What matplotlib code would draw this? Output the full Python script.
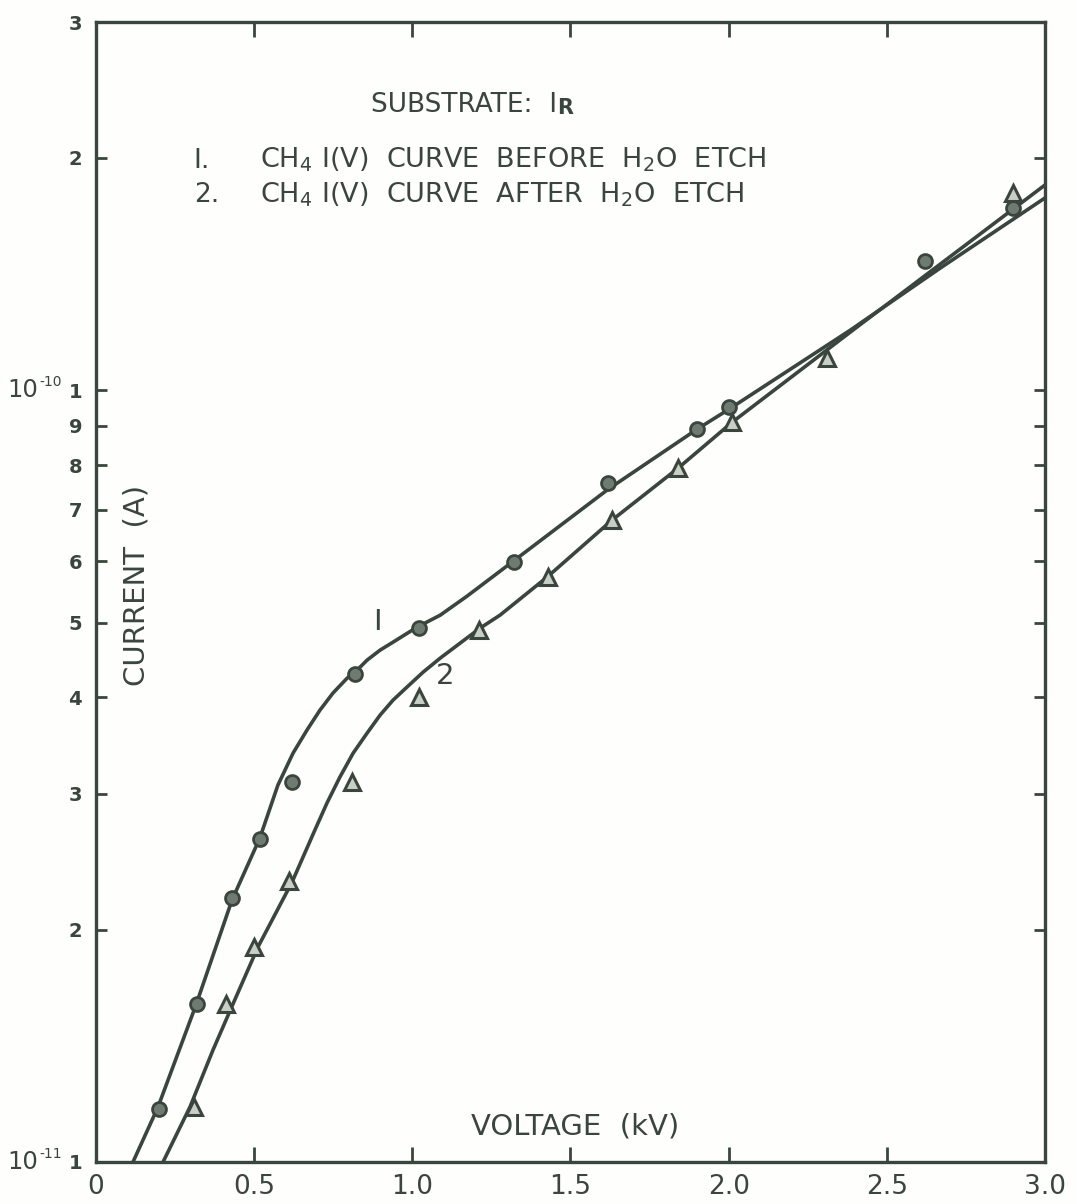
import matplotlib
matplotlib.use('Agg')
import matplotlib.pyplot as plt
import matplotlib.transforms as mtransforms
from matplotlib.ticker import FixedLocator, NullLocator

ink = '#3a463d'

# measured points, curve 1 (before H2O etch) - circles
v1 = [0.20, 0.32, 0.43, 0.52, 0.62, 0.82, 1.02, 1.32, 1.62, 1.90, 2.00, 2.62, 2.90]
i1 = [1.17e-11, 1.60e-11, 2.20e-11, 2.62e-11, 3.11e-11, 4.29e-11, 4.92e-11,
      5.99e-11, 7.58e-11, 8.90e-11, 9.50e-11, 1.47e-10, 1.72e-10]

# measured points, curve 2 (after H2O etch) - triangles
v2 = [0.31, 0.41, 0.50, 0.61, 0.81, 1.02, 1.21, 1.43, 1.63, 1.84, 2.01, 2.31, 2.90]
i2 = [1.18e-11, 1.60e-11, 1.90e-11, 2.31e-11, 3.11e-11, 4.00e-11, 4.89e-11,
      5.73e-11, 6.79e-11, 7.93e-11, 9.09e-11, 1.10e-10, 1.80e-10]

# hand drawn fit curves
c1_v = [0.117, 0.196, 0.316, 0.430, 0.518, 0.575, 0.623, 0.667, 0.708, 0.749,
        0.794, 0.819, 0.857, 0.898, 0.939, 1.015, 1.088, 1.173, 1.315, 1.619,
        1.900, 2.001, 2.384, 2.668, 3.0]
c1_i = [1.000e-11, 1.178e-11, 1.597e-11, 2.185e-11, 2.629e-11, 3.078e-11,
        3.387e-11, 3.628e-11, 3.850e-11, 4.051e-11, 4.236e-11, 4.312e-11,
        4.470e-11, 4.605e-11, 4.716e-11, 4.932e-11, 5.111e-11, 5.410e-11,
        5.987e-11, 7.442e-11, 8.902e-11, 9.450e-11, 1.196e-10, 1.439e-10,
        1.775e-10]
c2_v = [0.212, 0.297, 0.370, 0.433, 0.512, 0.620, 0.692, 0.730, 0.771, 0.813,
        0.857, 0.898, 0.939, 0.983, 1.034, 1.088, 1.151, 1.214, 1.277, 1.426,
        1.631, 1.840, 2.011, 2.384, 3.0]
c2_i = [1.000e-11, 1.178e-11, 1.397e-11, 1.602e-11, 1.899e-11, 2.306e-11,
        2.692e-11, 2.917e-11, 3.153e-11, 3.387e-11, 3.595e-11, 3.793e-11,
        3.967e-11, 4.124e-11, 4.312e-11, 4.496e-11, 4.702e-11, 4.917e-11,
        5.111e-11, 5.726e-11, 6.786e-11, 7.925e-11, 9.090e-11, 1.189e-10,
        1.845e-10]

x_ticks = [0, 0.5, 1.0, 1.5, 2.0, 2.5, 3.0]
x_labels = ['0', '0.5', '1.0', '1.5', '2.0', '2.5', '3.0']
y_ticks = [1e-11, 2e-11, 3e-11, 4e-11, 5e-11, 6e-11, 7e-11, 8e-11, 9e-11,
           1e-10, 2e-10, 3e-10]
y_labels = ['1', '2', '3', '4', '5', '6', '7', '8', '9', '1', '2', '3']
decades = [(1e-10, '-10'), (1e-11, '-11')]

fig = plt.figure(figsize=(10.76, 12.04), dpi=100, facecolor='#fefefc')
ax = fig.add_axes([0.0892, 0.0349, 0.8820, 0.9468])
ax.set_facecolor('#fefefc')

ax.plot(c1_v, c1_i, color=ink, lw=2.6, solid_joinstyle='round', zorder=2)
ax.plot(c2_v, c2_i, color=ink, lw=2.6, solid_joinstyle='round', zorder=2)
ax.plot(v1, i1, 'o', ms=10, mfc='#6f7a71', mec=ink, mew=2.0, zorder=3)
ax.plot(v2, i2, '^', ms=11, mfc='#c9cec6', mec=ink, mew=2.2, zorder=3)

ax.set_yscale('log')
ax.set_xlim(0, 3.0)
ax.set_ylim(1e-11, 3e-10)

ax.xaxis.set_major_locator(FixedLocator(x_ticks))
ax.set_xticklabels(x_labels)
ax.yaxis.set_major_locator(FixedLocator(y_ticks))
ax.yaxis.set_minor_locator(NullLocator())
ax.set_yticklabels(y_labels)

for s in ax.spines.values():
    s.set_linewidth(2.4)
    s.set_color(ink)

ax.tick_params(axis='x', direction='in', top=True, length=11, width=2,
               color=ink, labelsize=19, labelcolor=ink, pad=9)
ax.tick_params(axis='y', direction='in', right=True, length=8, width=2,
               color=ink, labelsize=14, labelcolor=ink, pad=10)
for lab in ax.get_yticklabels():
    lab.set_fontweight('bold')

# decade markers on the y axis: "10" with a small raised exponent
trans = mtransforms.blended_transform_factory(ax.transAxes, ax.transData)
for val, expo in decades:
    t10 = ax.text(-0.093, val, '10', transform=trans, ha='left', va='center',
                  fontsize=17.5, color=ink)
    ax.annotate(expo, xy=(1.02, 0.55), xycoords=t10, ha='left', va='bottom',
                fontsize=10, color=ink)

# axis titles drawn inside the frame like the original
ax.text(0.0432, 0.506, 'CURRENT  (A)', transform=ax.transAxes, rotation=90,
        ha='center', va='center', fontsize=21, color=ink)
ax.text(0.505, 0.031, 'VOLTAGE  (kV)', transform=ax.transAxes,
        ha='center', va='center', fontsize=21, color=ink)

# legend-ish text block
t = ax.text(0.290, 0.921, 'SUBSTRATE:  I', transform=ax.transAxes,
            ha='left', va='baseline', fontsize=19, color=ink)
ax.annotate('R', xy=(1, 0), xycoords=t, va='bottom', ha='left',
            fontsize=15, fontweight='bold', color=ink)
ax.text(0.103, 0.872, 'I.', transform=ax.transAxes, ha='left', va='baseline',
        fontsize=19, color=ink)
ax.text(0.1728, 0.872, r'CH$_4$ I(V)  CURVE  BEFORE  H$_2$O  ETCH',
        transform=ax.transAxes, ha='left', va='baseline', fontsize=19.5, color=ink)
ax.text(0.103, 0.842, '2.', transform=ax.transAxes, ha='left', va='baseline',
        fontsize=19, color=ink)
ax.text(0.1728, 0.842, r'CH$_4$ I(V)  CURVE  AFTER  H$_2$O  ETCH',
        transform=ax.transAxes, ha='left', va='baseline', fontsize=19.5, color=ink)

# curve numbers
ax.text(0.297, 0.474, 'I', transform=ax.transAxes, ha='center', va='center',
        fontsize=21, color=ink)
ax.text(0.368, 0.426, '2', transform=ax.transAxes, ha='center', va='center',
        fontsize=21, color=ink)

fig.savefig('out.png', dpi=100, facecolor=fig.get_facecolor())
